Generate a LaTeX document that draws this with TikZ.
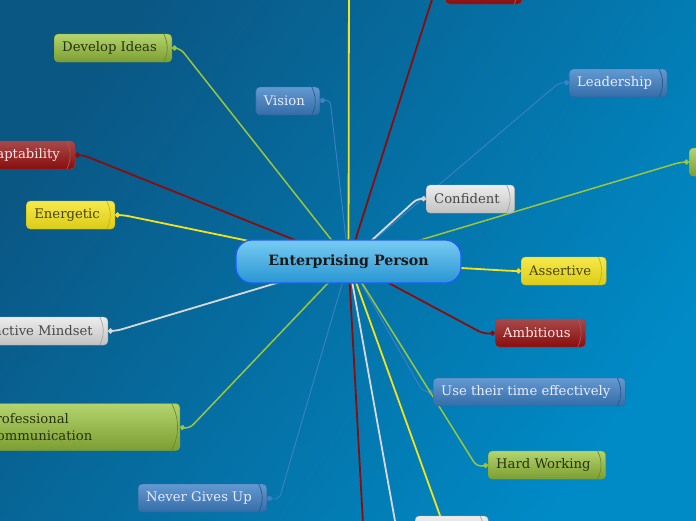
\documentclass[tikz,border=0pt]{standalone}
\usepackage{fontspec}
\setmainfont{DejaVu Serif}
\usetikzlibrary{arrows.meta,positioning}

\pgfdeclarelayer{backdrop}
\pgfdeclarelayer{links}
\pgfsetlayers{backdrop,links,main}

\definecolor{bgdark}{HTML}{0A5784}
\definecolor{bglight}{HTML}{008AC6}
\definecolor{hubtop}{HTML}{78CBF3}
\definecolor{hubbot}{HTML}{2896D2}
\definecolor{hubedge}{HTML}{1E5BFF}
\definecolor{grnline}{HTML}{9BC53D}
\definecolor{redline}{HTML}{8A0D0D}
\definecolor{yelline}{HTML}{F4E21C}
\definecolor{gryline}{HTML}{D8D8D8}
\definecolor{bluline}{HTML}{3D80C6}

\newcommand\mapfont{\fontsize{13.2}{17}\selectfont}
\newcommand\hubfont{\fontsize{14.2}{16}\selectfont\bfseries}

\begin{document}
\begin{tikzpicture}[x=1pt, y=-1pt,
    tube/.style={rounded corners=4pt, minimum height=28pt, inner xsep=8pt, inner ysep=2pt, font=\mapfont,
      execute at end node={\hspace{7pt}},
      path picture={\draw[#1, line width=0.7pt] ([xshift=-8pt]path picture bounding box.north east)
        to[bend left=25] ([xshift=-8pt]path picture bounding box.south east);}},
    greentube/.style={tube=grnline!70!black, top color=grnline!75!white, bottom color=grnline!80!black, draw=grnline!85!black, text=black!75!grnline},
    redtube/.style={tube=redline!70!white, top color=redline!75!white, bottom color=redline, draw=redline!80!white, text=red!10!white},
    yeltube/.style={tube=yelline!80!black, top color=yelline!80!white, bottom color=yelline!90!black, draw=yelline!85!black, text=black!70!yelline},
    grytube/.style={tube=gray!70, top color=white!93!black, bottom color=white!76!black, draw=white!70!black, text=black!72},
    blutube/.style={tube=bluline!70!black, top color=bluline!80!white, bottom color=bluline!85!black, draw=bluline!80!black, text=blue!8!white},
    hub/.style={rounded corners=16pt, minimum width=225pt, minimum height=43pt, line width=1.2pt,
      top color=hubtop, bottom color=hubbot, draw=hubedge, font=\hubfont, text=black!90},
    link/.style={rounded corners=6pt, line width=1.8pt, -{Circle[length=5pt]}},
    grnlink/.style={link, draw=grnline, line width=1.5pt},
    redlink/.style={link, draw=redline},
    yellink/.style={link, draw=yelline},
    grylink/.style={link, draw=gryline},
    blulink/.style={link, draw=bluline, line width=0.9pt}]

  \useasboundingbox (0,0) rectangle (696,520);
  \clip (0,0) rectangle (696,520);

  \node [hub] (root) at (348.5,261.5) {Enterprising Person};

  % left branches
  \node [greentube, anchor=east] (ideas) at (172,48) {Develop Ideas};
  \node [blutube, anchor=east] (vision) at (320,101) {Vision};
  \node [redtube, anchor=east] (adapt) at (75,155) {Adaptability};
  \node [yeltube, anchor=east] (energy) at (115,215) {Energetic};
  \node [grytube, anchor=east] (mindset) at (108,331) {Proactive Mindset};
  \node [greentube, anchor=east, minimum height=47pt, text width=185pt, align=left] (comms) at (180,427) {Professional\\Communication};
  \node [blutube, anchor=east] (never) at (267,498) {Never Gives Up};

  % right branches
  \node [redtube, anchor=west, minimum width=77pt] (topred) at (445,-10) {};
  \node [blutube, anchor=west] (lead) at (569,83) {Leadership};
  \node [greentube, anchor=west, minimum width=80pt] (edge) at (689,162) {};
  \node [grytube, anchor=west] (confid) at (426,199) {Confident};
  \node [yeltube, anchor=west] (assert) at (521,271) {Assertive};
  \node [redtube, anchor=west] (ambit) at (495,333) {Ambitious};
  \node [blutube, anchor=west] (timing) at (433,392) {Use their time effectively};
  \node [greentube, anchor=west] (hard) at (488,465) {Hard Working};
  \node [grytube, anchor=west, minimum width=73pt] (lowgry) at (415,530) {};

  \coordinate (upyel) at (349,-40);
  \coordinate (downred) at (365,560);
  \coordinate (downgry) at (402,560);
  \coordinate (downyel) at (456,560);

  \begin{pgfonlayer}{links}
    \clip (0,0) rectangle (696,520);
    \draw [grnlink] (root.center) -- ([xshift=8pt]ideas.east) -- (ideas.east);
    \draw [blulink] (root.center) -- ([xshift=10pt,yshift=2pt]vision.east) -- (vision.east);
    \draw [redlink] (root.center) -- ([xshift=8pt]adapt.east) -- (adapt.east);
    \draw [yellink] (root.center) -- ([xshift=8pt]energy.east) -- (energy.east);
    \draw [grylink] (root.center) -- ([xshift=8pt]mindset.east) -- (mindset.east);
    \draw [grnlink] (root.center) -- ([xshift=9pt,yshift=-2pt]comms.east) -- (comms.east);
    \draw [blulink] (root.center) -- ([xshift=12pt,yshift=-2pt]never.east) -- (never.east);
    \draw [redlink, -] (root.center) -- ([xshift=-10pt]topred.west) -- (topred.west);
    \draw [yellink, -] (root.center) -- (upyel);
    \draw [blulink] (root.center) -- ([xshift=-9pt,yshift=1pt]lead.west) -- (lead.west);
    \draw [grnlink] (root.center) -- ([xshift=-8pt]edge.west) -- (edge.west);
    \draw [grylink] (root.center) -- ([xshift=-8pt,yshift=1pt]confid.west) -- (confid.west);
    \draw [yellink] (root.center) -- ([xshift=-8pt]assert.west) -- (assert.west);
    \draw [redlink] (root.center) -- ([xshift=-11pt,yshift=-1pt]ambit.west) -- (ambit.west);
    \draw [blulink] (root.center) -- ([xshift=-10pt]timing.west) -- (timing.west);
    \draw [grnlink] (root.center) -- ([xshift=-11pt,yshift=-2pt]hard.west) -- (hard.west);
    \draw [redlink, -] (root.center) -- (downred);
    \draw [grylink, -] (root.center) -- (downgry);
    \draw [yellink, -] (root.center) -- (downyel);
  \end{pgfonlayer}

  \begin{pgfonlayer}{backdrop}
    \shade [top color=bgdark, bottom color=bglight, shading angle=55] (0,0) rectangle (696,520);
  \end{pgfonlayer}
\end{tikzpicture}
\end{document}
